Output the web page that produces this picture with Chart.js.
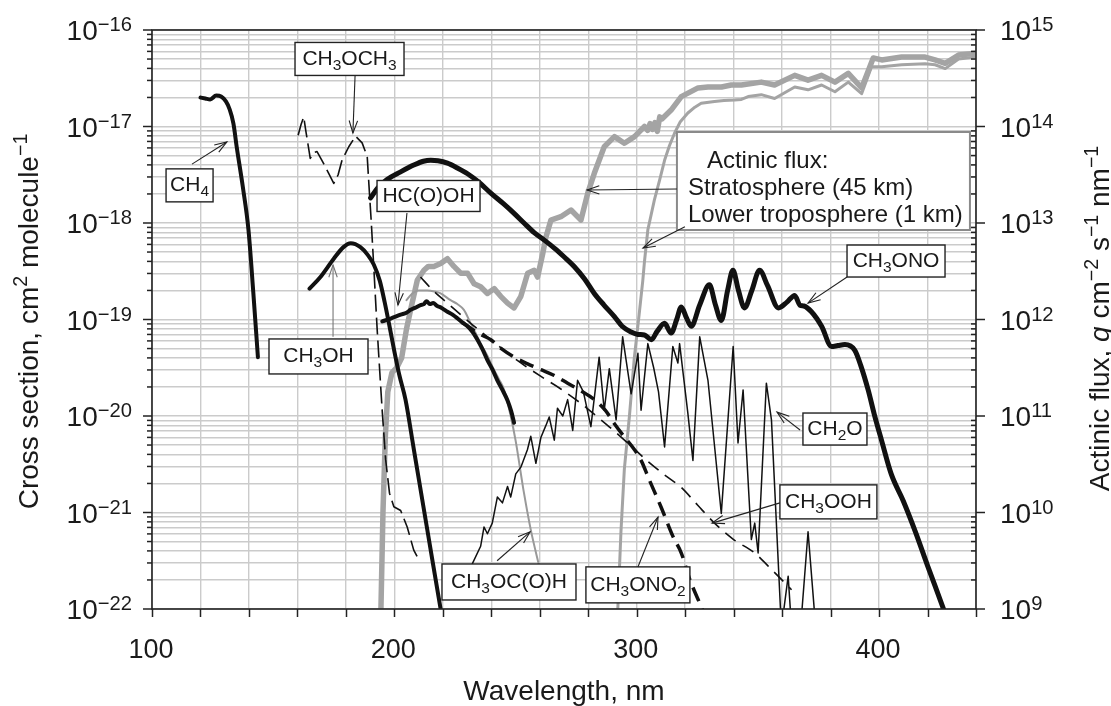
<!DOCTYPE html>
<html><head><meta charset="utf-8">
<script src="https://cdn.jsdelivr.net/npm/chart.js@4.4.1/dist/chart.umd.min.js"></script>
<style>html,body{margin:0;padding:0;background:#fff}#wrap{width:1111px;height:706px}</style>
</head><body><div id="wrap"><canvas id="c" width="1111" height="706"></canvas></div>
<script>
// ---- data: [wavelength nm, log10 cross section (cm2 molecule-1)] ----
const CH4 = [[120,-16.70],[122,-16.71],[124,-16.72],[126.5,-16.68],[128.5,-16.69],[130.5,-16.74],[132,-16.82],[133.6,-16.97],[135,-17.22],[137.5,-17.63],[139.8,-18.07],[141.8,-18.72],[143.7,-19.39]];
const CH3OH = [[165,-18.68],[169.5,-18.56],[175,-18.37],[179,-18.25],[182,-18.21],[186,-18.25],[189,-18.33],[191.5,-18.43],[194,-18.6],[196,-18.82],[198,-19.07],[200,-19.33],[202,-19.57],[204.6,-19.83],[208,-20.34],[212,-20.94],[216,-21.54],[219.5,-22.06]];
const CH3OCH3 = [[160.3,-17.09],[161.5,-16.98],[162.6,-16.90],[163.5,-17.05],[165.3,-17.33],[166.8,-17.27],[168.1,-17.26],[170.5,-17.37],[172.8,-17.48],[175,-17.59],[176.8,-17.5],[178.4,-17.35],[181.2,-17.21],[184,-17.10],[186.7,-17.17],[188.8,-17.31],[189.5,-17.6],[190.5,-18.0],[191.5,-18.45],[192.9,-19.1],[194,-19.55],[195,-19.95],[196.4,-20.45],[198,-20.8],[199.8,-20.94],[202.6,-20.98],[205.3,-21.15],[208,-21.39],[210.1,-21.49]];
const HCOOH = [[195,-19.02],[198.5,-18.99],[202.6,-18.95],[205,-18.93],[206.7,-18.90],[208.5,-18.88],[210.8,-18.85],[212.2,-18.84],[213.3,-18.81],[214.6,-18.84],[216,-18.83],[217.7,-18.86],[219.5,-18.88],[221.9,-18.92],[224,-18.95],[226.1,-18.99],[228,-19.03],[230.2,-19.07],[232.3,-19.13],[234.3,-19.21],[236.4,-19.31],[238.4,-19.42],[240.5,-19.52],[242.5,-19.63],[244.6,-19.73],[246.7,-19.84],[248.2,-19.95],[249.4,-20.07]];
const CH3OCOH = [[205,-18.80],[207,-18.74],[210,-18.70],[213.6,-18.70],[216.5,-18.71],[219.1,-18.73],[223.2,-18.80],[226,-18.84],[228.7,-18.90],[231.5,-19.04],[233.5,-19.14],[235.6,-19.25],[238.5,-19.38],[241.1,-19.52],[243.2,-19.62],[245.3,-19.73],[248,-20.0],[250,-20.25],[253.5,-20.8],[256.3,-21.18],[259.8,-21.56]];
const CH3OOH = [[210.8,-18.56],[216,-18.70],[221.9,-18.83],[231.5,-19.04],[238.4,-19.18],[245.3,-19.32],[252.2,-19.45],[260.5,-19.59],[268.7,-19.72],[277,-19.87],[283.8,-20.01],[290,-20.14],[296.3,-20.28],[304.6,-20.47],[312,-20.62],[318.4,-20.74],[325,-20.92],[332.1,-21.11],[340,-21.28],[348.7,-21.42],[356,-21.6],[363.9,-21.8]];
const CH3ONO2 = [[228,-19.03],[232,-19.1],[236,-19.16],[239.8,-19.21],[244,-19.3],[249.4,-19.39],[255,-19.46],[260.5,-19.52],[266,-19.58],[271.5,-19.66],[277,-19.74],[282.5,-19.83],[287,-19.94],[290.8,-20.08],[295,-20.22],[299.1,-20.35],[302,-20.47],[305,-20.65],[310,-20.94],[315,-21.25],[318.4,-21.42],[322,-21.7],[327,-22.0],[328.5,-22.1]];
const CH2O = [[232.2,-21.53],[235.6,-21.35],[237,-21.15],[238.4,-21.22],[240.4,-21.11],[242.5,-20.84],[244.6,-20.9],[246.7,-20.73],[248,-20.84],[250.1,-20.6],[252.2,-20.53],[254.9,-20.35],[256.3,-20.21],[258.4,-20.49],[260.5,-20.22],[262.5,-20.1],[263.9,-20.01],[266,-20.25],[267.3,-19.92],[269.5,-20.0],[271.5,-19.83],[273.6,-20.15],[275.6,-19.63],[278,-19.75],[281.1,-20.11],[284.5,-19.39],[286.6,-19.94],[288.7,-19.51],[291.5,-20.04],[294.2,-19.18],[297.7,-19.77],[300.5,-19.35],[301.8,-19.94],[304.6,-19.25],[307,-19.5],[309,-19.75],[311.5,-20.32],[314.9,-19.28],[317,-19.45],[317.7,-19.25],[321.1,-19.97],[323.2,-20.46],[326,-19.18],[329.4,-19.63],[334.9,-21.01],[339.8,-19.28],[341.8,-20.28],[343.9,-19.73],[347.3,-21.28],[348.7,-21.11],[350.1,-21.42],[353.5,-19.66],[355.6,-20.04],[359.7,-22.2],[362.5,-21.66],[363.9,-22.2],[367.3,-22.3],[370.7,-21.2],[374.2,-22.3]];
const CH3ONO = [[190.2,-17.74],[193,-17.64],[197,-17.55],[202.6,-17.47],[208,-17.40],[212,-17.36],[215,-17.35],[218,-17.355],[221.9,-17.38],[226,-17.43],[230.2,-17.49],[235,-17.58],[239.8,-17.69],[245,-17.80],[249.4,-17.90],[253.5,-18.0],[257.7,-18.10],[262,-18.18],[266,-18.26],[270,-18.35],[274.2,-18.45],[278.5,-18.58],[282.5,-18.73],[286.5,-18.85],[290.8,-18.97],[294,-19.07],[297.7,-19.13],[300.5,-19.155],[303.2,-19.16],[306,-19.21],[308.5,-19.12],[311.5,-19.04],[314.2,-19.14],[316.5,-19.0],[318.4,-18.87],[320.5,-18.98],[322.5,-19.07],[326,-18.85],[330,-18.64],[332.5,-18.85],[334.9,-19.01],[337.5,-18.7],[339.7,-18.49],[342,-18.7],[344.5,-18.88],[347.5,-18.7],[350.7,-18.49],[354,-18.65],[358.5,-18.88],[362,-18.82],[365.2,-18.75],[367.3,-18.85],[369,-18.86],[372.1,-18.92],[376.3,-19.07],[380.4,-19.28],[383,-19.27],[385.9,-19.26],[390,-19.32],[392.5,-19.48],[395.5,-19.73],[398,-19.98],[401,-20.25],[405,-20.6],[410,-20.88],[415,-21.2],[420,-21.55],[426.6,-22.0],[428,-22.1]];
// ---- actinic flux: [wavelength nm, log10 flux (quanta cm-2 s-1 nm-1)] ----
const FLUX_STRAT = [[194.3,8.8],[195.3,10.0],[196.3,10.8],[197.3,11.25],[199,11.45],[201,11.5],[203,11.6],[205,11.9],[206.7,12.10],[209.5,12.41],[212.2,12.51],[214,12.55],[216.3,12.55],[219.1,12.58],[221.9,12.63],[224.6,12.55],[227.4,12.48],[230.2,12.48],[232.9,12.37],[235.6,12.34],[238.4,12.27],[241.2,12.32],[243.9,12.24],[246.7,12.17],[249.4,12.12],[252.2,12.24],[255,12.48],[257.7,12.51],[259.1,12.44],[261.2,12.68],[262.5,12.85],[264.6,13.03],[268.7,13.065],[272.9,13.135],[277,13.03],[279.8,13.31],[282.5,13.515],[286.6,13.79],[290.8,13.895],[294.9,13.826],[299.1,13.895],[303.2,14.0],[304.5,13.96],[305.5,14.03],[306.5,13.97],[307.5,14.04],[308.5,13.95],[309.5,14.1],[310.5,14.08],[314.2,14.17],[318.4,14.31],[325.3,14.40],[329.4,14.41],[335,14.41],[339,14.43],[343.2,14.43],[351.4,14.46],[356.9,14.43],[365.2,14.53],[370.7,14.48],[376.3,14.53],[381.8,14.46],[387.3,14.55],[392.8,14.40],[397.6,14.71],[401.1,14.69],[409.3,14.72],[419,14.72],[423.1,14.69],[427.3,14.655],[432.8,14.74],[440,14.76]];
const FLUX_TROPO = [[291.8,8.8],[292.2,9.0],[293.5,9.8],[294.9,10.45],[297,11.0],[299,11.6],[301,12.05],[302.5,12.4],[303.2,12.6],[304.6,12.93],[307.3,13.24],[309.5,13.45],[311.5,13.65],[313.5,13.8],[315.6,13.93],[318,14.05],[321.1,14.14],[324,14.2],[326.6,14.24],[332.1,14.26],[336,14.27],[340.4,14.275],[343.2,14.28],[346,14.31],[351.4,14.33],[356.9,14.29],[365.2,14.41],[370.7,14.38],[376.3,14.43],[381.8,14.36],[387.3,14.46],[392.8,14.34],[396.9,14.62],[401.1,14.62],[409.3,14.64],[419,14.65],[423.1,14.64],[427.3,14.60],[432.8,14.70],[440,14.72]];
// ---- tick labels ----
const X_TICK_LABELS = [100, 200, 300, 400];
const LEFT_EXPONENTS = [-22, -21, -20, -19, -18, -17, -16];
const RIGHT_EXPONENTS = [9, 10, 11, 12, 13, 14, 15];
const X_TITLE = 'Wavelength, nm';
const LEFT_TITLE = 'Cross section, cm^{2} molecule^{\u22121}';
const RIGHT_TITLE = 'Actinic flux, *{q} cm^{\u22122} s^{\u22121} nm^{\u22121}';

// ---- labels (anchors in data units: [nm, log10 sigma]) ----
const LABELS = [
  {text:'CH_{4}', c:[115.5,-17.61], w:47, h:33, from:[116.5,-17.39], to:[130.9,-17.16]},
  {text:'CH_{3}OCH_{3}', c:[181.5,-16.30], w:109, h:33, from:[183.8,-16.466], to:[182.9,-17.067]},
  {text:'HC(O)OH', c:[214.1,-17.72], w:103, h:31, from:[205.2,-17.896], to:[201.5,-18.85]},
  {text:'CH_{3}OH', c:[168.7,-19.383], w:99, h:35, from:[174.7,-19.18], to:[174.7,-18.435], arrowColor:'#777'},
  {text:'CH_{3}ONO', c:[407,-18.394], w:98, h:32, from:[386.8,-18.56], to:[370.7,-18.83]},
  {text:'CH_{2}O', c:[381.8,-20.135], w:64, h:32, from:[367.4,-20.145], to:[357.9,-19.96]},
  {text:'CH_{3}OOH', c:[379.1,-20.89], w:97, h:34, from:[359.1,-20.90], to:[331.1,-21.11]},
  {text:'CH_{3}ONO_{2}', c:[300.5,-21.75], w:104, h:36, from:[300.5,-21.565], to:[308.8,-21.047]},
  {text:'CH_{3}OC(O)H', c:[247.3,-21.72], w:134, h:36, from:[242.4,-21.50], to:[256,-21.20]}
];
const FLUX_BOX = {tl:[316.6,-17.057], w:293, h:98,
  lines:[{t:'Actinic flux:', dx:30, dy:36},{t:'Stratosphere (45 km)', dx:11, dy:63},{t:'Lower troposphere (1 km)', dx:11, dy:90}],
  arrows:[{from:[316.6,-17.648], to:[279.5,-17.658]},{from:[319.9,-18.04], to:[302.6,-18.26]}]};

const FONT = '"Liberation Sans", Arial, Helvetica, sans-serif';
const pts = arr => arr.map(p => ({x: p[0], y: Math.pow(10, p[1])}));

function parseRich(s){const out=[];const re=/([_^*])\{([^}]*)\}|([^_^*]+)/g;let m;while((m=re.exec(s))){if(m[3])out.push({t:m[3],k:0});else out.push({t:m[2],k:m[1]==='_'?-1:(m[1]==='^'?1:'i')});}return out;}
function segFont(k,size,r){const sz=(k===1||k===-1)?size*(r||0.7):size;return (k==='i'?'italic ':'')+sz.toFixed(1)+'px '+FONT;}
function richWidth(ctx,segs,size,r){let w=0;for(const s of segs){ctx.font=segFont(s.k,size,r);w+=ctx.measureText(s.t).width;}return w;}
function drawRich(ctx,str,x,y,size,align,supRaise,r){
  const segs=parseRich(str);const w=richWidth(ctx,segs,size,r);
  let cx = align==='center'? x-w/2 : (align==='right'? x-w : x);
  ctx.textAlign='left';ctx.textBaseline='alphabetic';
  for(const s of segs){ctx.font=segFont(s.k,size,r);
    let dy=0; if(s.k===1) dy=-(supRaise!==undefined?supRaise:size*0.4); if(s.k===-1) dy=size*0.24;
    ctx.fillText(s.t,cx,y+dy);cx+=ctx.measureText(s.t).width;}
}
function arrow(ctx,x1,y1,x2,y2,color){
  ctx.save();ctx.strokeStyle=color||'#222';ctx.lineWidth=1.1;
  ctx.beginPath();ctx.moveTo(x1,y1);ctx.lineTo(x2,y2);ctx.stroke();
  const a=Math.atan2(y2-y1,x2-x1),L=13,h=0.33;
  ctx.beginPath();ctx.moveTo(x2-L*Math.cos(a-h),y2-L*Math.sin(a-h));ctx.lineTo(x2,y2);ctx.lineTo(x2-L*Math.cos(a+h),y2-L*Math.sin(a+h));ctx.stroke();
  ctx.restore();
}

const decor = {
  id:'decor',
  afterDatasetsDraw(chart){
    const {ctx, chartArea:a, scales:{x,y,y2}} = chart;
    const P = (d) => [x.getPixelForValue(d[0]), y.getPixelForValue(Math.pow(10,d[1]))];
    ctx.save();
    ctx.fillStyle='#1a1a1a';ctx.strokeStyle='#222';
    // frame
    ctx.lineWidth=1.6;ctx.strokeRect(a.left,a.top,a.right-a.left,a.bottom-a.top);
    // x tick marks
    ctx.lineWidth=1.5;
    for(let v=100;v<=440;v+=20){const px=Math.round(x.getPixelForValue(v))+0.5;ctx.beginPath();ctx.moveTo(px,a.bottom);ctx.lineTo(px,a.bottom+8);ctx.stroke();}
    // y tick marks
    for(let e=-22;e<=-16;e++){
      const py=y.getPixelForValue(Math.pow(10,e));ctx.beginPath();ctx.moveTo(a.left-9,py);ctx.lineTo(a.left,py);ctx.stroke();
      const qy=y2.getPixelForValue(Math.pow(10,e+31));ctx.beginPath();ctx.moveTo(a.right,qy);ctx.lineTo(a.right+9,qy);ctx.stroke();
      if(e<-16){for(let m=2;m<=9;m++){
        const my=y.getPixelForValue(m*Math.pow(10,e));ctx.beginPath();ctx.moveTo(a.left-5,my);ctx.lineTo(a.left,my);ctx.stroke();
        const ny=y2.getPixelForValue(m*Math.pow(10,e+31));ctx.beginPath();ctx.moveTo(a.right-5,ny);ctx.lineTo(a.right,ny);ctx.stroke();}}
    }
    // tick labels
    for(const e of LEFT_EXPONENTS){const py=y.getPixelForValue(Math.pow(10,e));drawRich(ctx,'10^{\u2212'+Math.abs(e)+'}',a.left-20,py+10,28,'right',9,0.72);}
    for(const e of RIGHT_EXPONENTS){const py=y2.getPixelForValue(Math.pow(10,e));drawRich(ctx,'10^{'+e+'}',a.right+24,py+10,28,'left',9,0.72);}
    for(const v of X_TICK_LABELS){drawRich(ctx,String(v),x.getPixelForValue(v)-1,a.bottom+49,27,'center');}
    // axis titles
    drawRich(ctx,X_TITLE,(a.left+a.right)/2,700,28,'center');
    ctx.save();ctx.translate(38,(a.top+a.bottom)/2+2);ctx.rotate(-Math.PI/2);drawRich(ctx,LEFT_TITLE,0,0,28,'center',11);ctx.restore();
    ctx.save();ctx.translate(1109,(a.top+a.bottom)/2-1);ctx.rotate(-Math.PI/2);drawRich(ctx,RIGHT_TITLE,0,0,28,'center',11);ctx.restore();
    // flux box
    {const [bx,by]=P(FLUX_BOX.tl);ctx.fillStyle='#fff';ctx.fillRect(bx,by,FLUX_BOX.w,FLUX_BOX.h);
     ctx.strokeStyle='#8a8a8a';ctx.lineWidth=2;ctx.strokeRect(bx,by,FLUX_BOX.w,FLUX_BOX.h);
     ctx.fillStyle='#1a1a1a';for(const l of FLUX_BOX.lines)drawRich(ctx,l.t,bx+l.dx,by+l.dy,24,'left');
     for(const ar of FLUX_BOX.arrows){const [x1,y1]=P(ar.from),[x2,y2]=P(ar.to);arrow(ctx,x1,y1,x2,y2);}}
    // labels
    for(const L of LABELS){
      const [cx,cy]=P(L.c);ctx.fillStyle='#fff';ctx.fillRect(cx-L.w/2,cy-L.h/2,L.w,L.h);
      ctx.strokeStyle='#222';ctx.lineWidth=1.4;ctx.strokeRect(cx-L.w/2,cy-L.h/2,L.w,L.h);
      ctx.fillStyle='#1a1a1a';drawRich(ctx,L.text,cx,cy+6,21,'center',undefined,0.74);
      const [x1,y1]=P(L.from),[x2,y2]=P(L.to);arrow(ctx,x1,y1,x2,y2,L.arrowColor);
    }
    ctx.restore();
  }
};

function ds(label,arr,o){return Object.assign({label,data:pts(arr),borderColor:'#111',borderWidth:2,pointRadius:0,fill:false,borderCapStyle:'round',borderJoinStyle:'round',yAxisID:'y'},o);}
const smooth={cubicInterpolationMode:'monotone'};
const gridC='#cbcbcb';

new Chart(document.getElementById('c'),{
  type:'line',
  data:{datasets:[
    ds('CH3ONO',CH3ONO,Object.assign({borderWidth:5},smooth)),
    ds('CH4',CH4,Object.assign({borderWidth:4},smooth)),
    ds('CH3OH',CH3OH,Object.assign({borderWidth:4},smooth)),
    ds('HC(O)OH',HCOOH,Object.assign({borderWidth:4},smooth)),
    ds('CH3ONO2',CH3ONO2,Object.assign({borderWidth:3.5,borderDash:[15,8],borderCapStyle:'butt'},smooth)),
    ds('CH3OOH',CH3OOH,Object.assign({borderWidth:1.6,borderDash:[13,8],borderCapStyle:'butt'},smooth)),
    ds('CH2O',CH2O,{borderWidth:1.5}),
    ds('CH3OCH3',CH3OCH3,{borderWidth:1.6,borderDash:[17,6],borderCapStyle:'butt'}),
    ds('CH3OC(O)H',CH3OCOH,Object.assign({borderWidth:2,borderColor:'#999'},smooth)),
    ds('Stratosphere (45 km)',FLUX_STRAT,{borderWidth:5.5,borderColor:'#a4a4a4',yAxisID:'y2'}),
    ds('Lower troposphere (1 km)',FLUX_TROPO,{borderWidth:3,borderColor:'#a4a4a4',yAxisID:'y2'})
  ]},
  options:{
    responsive:false,devicePixelRatio:1,animation:false,events:[],
    layout:{padding:{left:152,right:135,top:30,bottom:97}},
    plugins:{legend:{display:false},tooltip:{enabled:false}},
    scales:{
      x:{type:'linear',min:100,max:440,
        afterBuildTicks:s=>{const t=[];for(let v=100;v<=440;v+=20)t.push({value:v});s.ticks=t;},
        ticks:{display:false},grid:{color:gridC,lineWidth:1.4,drawTicks:false},border:{display:false}},
      y:{type:'logarithmic',min:1e-22,max:1e-16,
        afterBuildTicks:s=>{const t=[];for(let e=-22;e<-16;e++)for(let m=1;m<=9;m++)t.push({value:m*Math.pow(10,e)});t.push({value:1e-16});s.ticks=t;},
        ticks:{display:false},grid:{color:gridC,lineWidth:1.4,drawTicks:false},border:{display:false}},
      y2:{type:'logarithmic',position:'right',min:1e9,max:1e15,
        afterBuildTicks:s=>{const t=[];for(let e=9;e<=15;e++)t.push({value:Math.pow(10,e)});s.ticks=t;},
        ticks:{display:false},grid:{display:false,drawTicks:false},border:{display:false}}
    }
  },
  plugins:[decor]
});
</script></body></html>
